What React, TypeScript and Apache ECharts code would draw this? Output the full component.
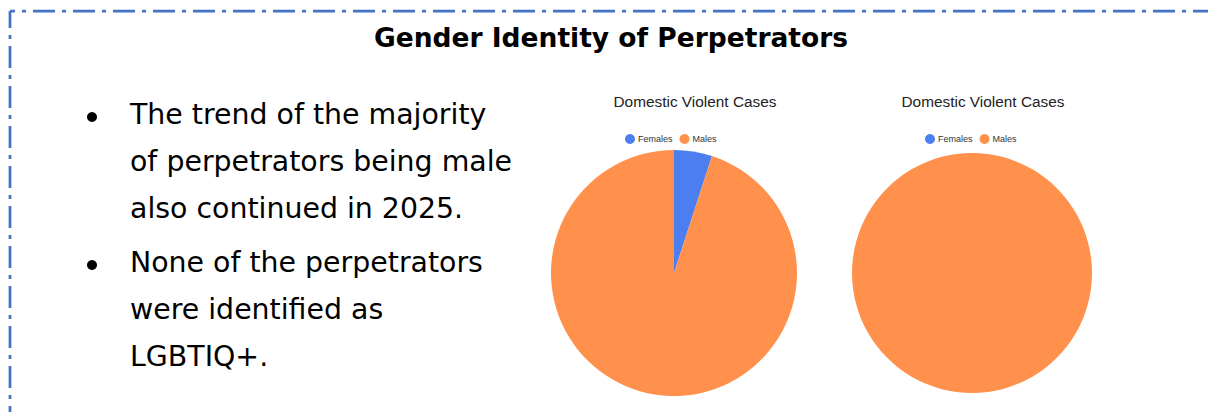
import React, { useEffect, useRef } from "react";
import * as echarts from "echarts";

const categories = ["Females", "Males"];
const pieTitles = ["Domestic Violent Cases", "Domestic Violent Cases"];
const femalesValues = [5, 0];
const malesValues = [95, 100];
const heading = "Gender Identity of Perpetrators";
const bullets = [
  ["The trend of the majority", "of perpetrators being male", "also continued in 2025."],
  ["None of the perpetrators", "were identified as", "LGBTIQ+."],
];

const BLUE = "#4C7EF0";
const ORANGE = "#FF914D";
const FRAME = "#4472C4";

export default function App() {
  const ref = useRef<HTMLDivElement>(null);
  useEffect(() => {
    if (!ref.current) return;
    const chart = echarts.init(ref.current, null, { renderer: "svg" });
    const centers = [
      [674, 273],
      [972, 273],
    ];
    const radii = [123, 120];
    const titleX = [695, 983];
    const legendX = [625, 925];
    const bodyFont = "DejaVu Sans";
    const lineBaselines = [
      [122, 169, 216],
      [270, 317, 364],
    ];
    const graphics: any[] = [
      {
        type: "line",
        shape: { x1: 10, y1: 11, x2: 1220, y2: 11 },
        style: { stroke: FRAME, lineWidth: 2.75, lineDash: [22, 7, 4, 7], lineDashOffset: 17 },
        silent: true,
      },
      {
        type: "line",
        shape: { x1: 10, y1: 11, x2: 10, y2: 430 },
        style: { stroke: FRAME, lineWidth: 2.75, lineDash: [22, 7, 4, 7], lineDashOffset: 5 },
        silent: true,
      },
      {
        type: "text",
        x: 611,
        y: 50.5,
        style: {
          text: heading,
          fill: "#000",
          font: "bold 26.5px 'DejaVu Sans'",
          align: "center",
          verticalAlign: "bottom",
        },
      },
    ];
    bullets.forEach((para, pi) => {
      graphics.push({
        type: "circle",
        shape: { cx: 92, cy: lineBaselines[pi][0] - 5, r: 5 },
        style: { fill: "#000" },
      });
      para.forEach((line, li) => {
        graphics.push({
          type: "text",
          x: 130,
          y: lineBaselines[pi][li] + 6,
          style: {
            text: line,
            fill: "#000",
            font: `28.4px '${bodyFont}'`,
            align: "left",
            verticalAlign: "bottom",
          },
        });
      });
    });

    const option: any = {
      animation: false,
      title: pieTitles.map((t, i) => ({
        text: t,
        left: titleX[i],
        top: 94,
        textAlign: "center",
        textStyle: { fontSize: 15.4, fontWeight: "normal", color: "#222", fontFamily: "Liberation Sans" },
        padding: 0,
      })),
      legend: [0, 1].map((i) => ({
        seriesIndex: i,
        data: categories,
        left: legendX[i],
        top: 134,
        padding: 0,
        icon: "circle",
        itemWidth: 10,
        itemHeight: 10,
        itemGap: 7,
        selectedMode: false,
        textStyle: { fontSize: 9, color: "#333", fontFamily: "Liberation Sans", padding: [0, 0, 0, -2] },
      })),
      color: [BLUE, ORANGE],
      series: [0, 1].map((i) => ({
        type: "pie",
        center: centers[i],
        radius: radii[i],
        startAngle: 90,
        clockwise: true,
        label: { show: false },
        labelLine: { show: false },
        emphasis: { disabled: true },
        silent: true,
        data: [
          { name: categories[0], value: femalesValues[i], itemStyle: { color: BLUE } },
          { name: categories[1], value: malesValues[i], itemStyle: { color: ORANGE } },
        ],
      })),
      graphic: graphics,
    };
    chart.setOption(option);
    return () => chart.dispose();
  }, []);
  return (
    <div
      ref={ref}
      style={{ position: "fixed", left: 0, top: 0, width: 1208, height: 412, background: "#fff" }}
    />
  );
}
